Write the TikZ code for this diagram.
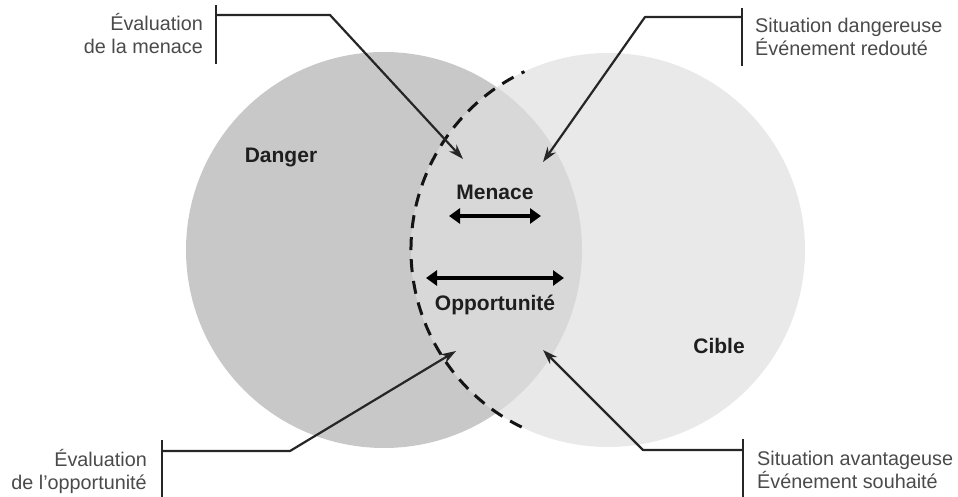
\documentclass[tikz,border=0pt]{standalone}
\usepackage{fontspec}
\setmainfont{Liberation Sans}
\usetikzlibrary{arrows.meta}

\definecolor{dangerfill}{HTML}{C8C8C8}
\definecolor{ciblefill}{HTML}{E9E9E9}
\definecolor{overlapfill}{HTML}{D8D8D8}
\definecolor{inkline}{HTML}{262626}
\definecolor{labelgray}{HTML}{4A4A4A}
\definecolor{titleink}{HTML}{1E1E1E}

\begin{document}
\begin{tikzpicture}[x=1pt,y=-1pt,
  disc/.style={circle, inner sep=0pt, draw=none},
  sidelabel/.style={font=\fontsize{19.8}{23}\selectfont, text=labelgray, inner sep=0pt},
  zonelabel/.style={font=\bfseries\fontsize{21}{24}\selectfont, text=titleink, inner sep=0pt, anchor=base},
  bracket/.style={draw=inkline, line width=2.6pt},
  pointer/.style={draw=inkline, line width=2.2pt, line join=round, -{Stealth[length=15pt,width=10pt]}},
  span/.style={draw=black, line width=3.2pt, {Triangle[length=11pt,width=15pt]}-{Triangle[length=11pt,width=15pt]}},
  boundary/.style={draw=black!92, line width=3pt, dash pattern=on 13pt off 9pt},
]
\useasboundingbox (0,0) rectangle (958,497);

% the two sets
\node[disc, minimum size=396pt, fill=dangerfill] (danger) at (384,250) {};
\node[disc, minimum size=394pt, fill=ciblefill] (cible) at (608,250) {};

% their intersection
\begin{scope}
  \clip (384,250) circle[radius=198pt];
  \fill[overlapfill] (608,250) circle[radius=197pt];
\end{scope}

% dashed edge of the target set, drawn from bottom to top
\draw[boundary] ([shift={(244:197pt)}]cible.center) arc[start angle=244, end angle=115.1, radius=197pt];

% zone titles
\node[zonelabel] (tdanger) at (281,163) {Danger};
\node[zonelabel] (tmenace) at (495,200) {Menace};
\node[zonelabel] (topport) at (495,310) {Opportunité};
\node[zonelabel] (tcible) at (719,353) {Cible};

% double arrows
\coordinate (m1) at (449,216);
\coordinate (m2) at (541,216);
\coordinate (o1) at (426,278);
\coordinate (o2) at (564,278);
\draw[span] (m1) -- (m2);
\draw[span] (o1) -- (o2);

% side labels (anchored on the baseline of their last line)
\node[sidelabel, anchor=base east, align=right] (evmenace) at (203,54) {Évaluation\\de la menace};
\node[sidelabel, anchor=base west, align=left] (sitdang) at (755,56) {Situation dangereuse\\Événement redouté};
\node[sidelabel, anchor=base east, align=right] (evopport) at (147,489) {Évaluation\\de l’opportunité};
\node[sidelabel, anchor=base west, align=left] (sitavant) at (757,488) {Situation avantageuse\\Événement souhaité};

% bracket bars
\coordinate (b1a) at (216,5);   \coordinate (b1b) at (216,64);
\coordinate (b2a) at (742,8);   \coordinate (b2b) at (742,66);
\coordinate (b3a) at (162,440); \coordinate (b3b) at (162,497);
\coordinate (b4a) at (743,439); \coordinate (b4b) at (743,497);
\draw[bracket] (b1a) -- (b1b);
\draw[bracket] (b2a) -- (b2b);
\draw[bracket] (b3a) -- (b3b);
\draw[bracket] (b4a) -- (b4b);

% pointers
\coordinate (s1) at (216,15);  \coordinate (e1) at (330,15);  \coordinate (t1) at (463,159);
\coordinate (s2) at (742,17);  \coordinate (e2) at (645,17);  \coordinate (t2) at (543,162);
\coordinate (s3) at (162,451); \coordinate (e3) at (290,451); \coordinate (t3) at (456,351);
\coordinate (s4) at (743,450); \coordinate (e4) at (643,450); \coordinate (t4) at (543,350);
\draw[pointer] (s1) -- (e1) -- (t1);
\draw[pointer] (s2) -- (e2) -- (t2);
\draw[pointer] (s3) -- (e3) -- (t3);
\draw[pointer] (s4) -- (e4) -- (t4);
\end{tikzpicture}
\end{document}
